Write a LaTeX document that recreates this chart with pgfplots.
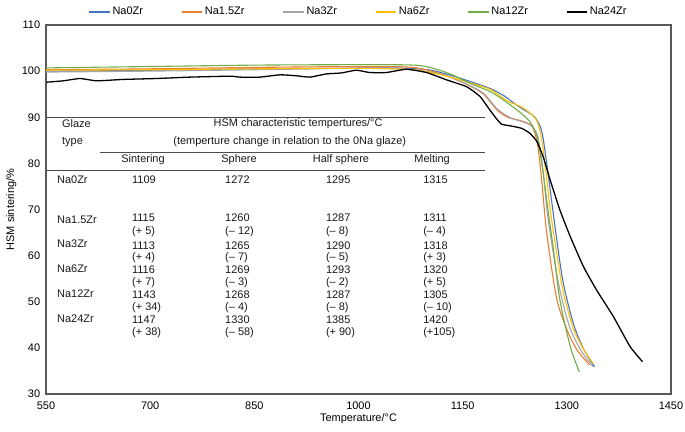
\documentclass[border=0pt]{standalone}
\usepackage{pgfplots}
\pgfplotsset{compat=1.18}
\usepackage{fontspec}
\setmainfont{Liberation Sans}
\definecolor{cBlue}{HTML}{4472C4}
\definecolor{cOrange}{HTML}{ED7D31}
\definecolor{cGray}{HTML}{A5A5A5}
\definecolor{cYellow}{HTML}{FFC000}
\definecolor{cGreen}{HTML}{70AD47}
\pgfplotsset{
  mylegimg/.style={legend image code/.code={\draw[##1, line width=1.6pt] (0cm,0cm) -- (0.72cm,0cm);}},
}
\begin{document}
\fontsize{11}{13}\selectfont
\begin{tikzpicture}
\path[use as bounding box] (-46bp,-38bp) rectangle (639bp,394bp);
\begin{axis}[
  scale only axis, width=625bp, height=369bp,
  xmin=550, xmax=1450, ymin=30, ymax=110,
  xtick={550,700,...,1450}, ytick={30,40,...,110},
  major tick length=0pt,
  axis line style={draw=black!65, line width=1.1pt},
  /pgf/number format/assume math mode=true,
  /pgf/number format/set thousands separator={},
  tick label style={font=\fontsize{11}{13}\selectfont},
  xticklabel style={yshift=-4bp},
  yticklabel style={xshift=-2bp},
  xlabel={Temperature/°C}, ylabel={HSM sintering/\%},
  label style={font=\fontsize{11}{13}\selectfont},
  xlabel style={yshift=4bp},
  ylabel style={yshift=-2bp},
  legend columns=6,
  legend style={at={(0.5,1.012)}, anchor=south, draw=none, fill=none,
    font=\fontsize{11}{13}\selectfont,
    /tikz/every even column/.append style={column sep=36bp}},
  mylegimg,
  clip=false,
]
\addplot[draw=cBlue, line width=1.1pt, smooth] coordinates {(550,100.0) (650,100.1) (750,100.3) (850,100.5) (950,100.6) (1050,100.7) (1100,100.3) (1130,99.2) (1160,97.8) (1190,96.2) (1210,94.6) (1228,92.6) (1245,91.0) (1255,89.8) (1264,86.9) (1271,80) (1278,72) (1285,64) (1295,54) (1310,45) (1325,39.5) (1340,35.9)};
\addlegendentry{Na0Zr}
\addplot[draw=cOrange, line width=1.1pt, smooth] coordinates {(550,100.3) (700,100.5) (850,100.8) (1000,101.0) (1070,100.9) (1100,100.2) (1130,98.8) (1160,96.8) (1180,95.0) (1200,91.5) (1215,90.0) (1235,89.2) (1250,88) (1258,84) (1264,76) (1271,65) (1285,51) (1300,44) (1315,39.5) (1333,36.3)};
\addlegendentry{Na1.5Zr}
\addplot[draw=cGray, line width=1.1pt, smooth] coordinates {(550,99.8) (700,100.0) (850,100.3) (1000,100.6) (1070,100.4) (1100,99.9) (1130,98.8) (1160,96.9) (1180,95.2) (1200,91.8) (1220,89.8) (1245,88.5) (1258,86) (1266,78) (1273,68) (1288,54) (1303,45) (1320,39.5) (1338,35.9)};
\addlegendentry{Na3Zr}
\addplot[draw=cYellow, line width=1.1pt, smooth] coordinates {(550,100.2) (700,100.3) (850,100.5) (1000,100.6) (1070,100.4) (1100,99.8) (1130,98.8) (1160,97.5) (1190,96.0) (1215,93.5) (1235,92.2) (1250,90.5) (1258,88.8) (1264,85) (1270,78) (1277,69) (1285,61) (1295,52) (1310,44) (1325,39.5) (1338,36.6)};
\addlegendentry{Na6Zr}
\addplot[draw=cGreen, line width=1.1pt, smooth] coordinates {(550,100.7) (700,101.0) (850,101.3) (1000,101.4) (1080,101.3) (1110,100.5) (1135,99.2) (1160,97.4) (1194,95.2) (1228,91.6) (1247,89) (1257,85.8) (1264,80) (1271,72) (1281,61) (1290,50.4) (1305,40.3) (1318,34.8)};
\addlegendentry{Na12Zr}
\addplot[draw=black, line width=1.3pt, smooth, tension=0.3] coordinates {(551,97.6) (575,97.9) (599,98.4) (623,97.9) (661,98.2) (709,98.4) (757,98.7) (815,98.9) (829,98.7) (858,98.7) (887,99.2) (910,99.0) (930,98.7) (954,99.4) (975,99.6) (997,100.2) (1016,99.7) (1040,99.7) (1069,100.4) (1098,99.7) (1127,98.1) (1156,96.6) (1175,94.5) (1189,91.6) (1198,89.8) (1206,88.5) (1220,88.1) (1235,87.6) (1247,86.5) (1257,84.7) (1266,81.4) (1276,76.4) (1290,69.9) (1305,64.1) (1324,57.6) (1343,52.5) (1367,46.8) (1391,40.3) (1409,37.0)};
\addlegendentry{Na24Zr}
% embedded table
\draw[black!70, line width=0.8pt] (axis cs:550,90) -- (axis cs:1182,90);
\draw[black!70, line width=0.8pt] (axis cs:628,82.47) -- (axis cs:1182,82.47);
\draw[black!70, line width=0.8pt] (axis cs:550,78.56) -- (axis cs:1182,78.56);
\begin{scope}[every node/.style={font=\fontsize{11}{13}\selectfont, inner sep=0pt, text=black!90}]
\node[anchor=west] at (axis cs:573,88.54) {Glaze};
\node[anchor=west] at (axis cs:573,84.63) {type};
\node at (axis cs:913,88.54) {HSM characteristic tempertures/°C};
\node at (axis cs:901,84.63) {(temperture change in relation to the 0Na glaze)};
\node at (axis cs:689.7,80.73) {Sintering};
\node at (axis cs:828,80.73) {Sphere};
\node at (axis cs:974.8,80.73) {Half sphere};
\node at (axis cs:1106,80.73) {Melting};
% row labels
\node[anchor=west] at (axis cs:565.8,76.40) {Na0Zr};
\node[anchor=west] at (axis cs:565.8,67.72) {Na1.5Zr};
\node[anchor=west] at (axis cs:565.8,62.52) {Na3Zr};
\node[anchor=west] at (axis cs:565.8,57.10) {Na6Zr};
\node[anchor=west] at (axis cs:565.8,51.68) {Na12Zr};
\node[anchor=west] at (axis cs:565.8,46.26) {Na24Zr};
% values
\node[anchor=west] at (axis cs:673.8,76.40) {1109};
\node[anchor=west] at (axis cs:807.8,76.40) {1272};
\node[anchor=west] at (axis cs:953,76.40) {1295};
\node[anchor=west] at (axis cs:1093,76.40) {1315};
\node[anchor=west] at (axis cs:673.8,68.16) {1115};
\node[anchor=west] at (axis cs:807.8,68.16) {1260};
\node[anchor=west] at (axis cs:953,68.16) {1287};
\node[anchor=west] at (axis cs:1093,68.16) {1311};
\node[anchor=west] at (axis cs:673.8,65.12) {(+ 5)};
\node[anchor=west] at (axis cs:807.8,65.12) {(– 12)};
\node[anchor=west] at (axis cs:953,65.12) {(– 8)};
\node[anchor=west] at (axis cs:1093,65.12) {(– 4)};
\node[anchor=west] at (axis cs:673.8,62.09) {1113};
\node[anchor=west] at (axis cs:807.8,62.09) {1265};
\node[anchor=west] at (axis cs:953,62.09) {1290};
\node[anchor=west] at (axis cs:1093,62.09) {1318};
\node[anchor=west] at (axis cs:673.8,59.49) {(+ 4)};
\node[anchor=west] at (axis cs:807.8,59.49) {(– 7)};
\node[anchor=west] at (axis cs:953,59.49) {(– 5)};
\node[anchor=west] at (axis cs:1093,59.49) {(+ 3)};
\node[anchor=west] at (axis cs:673.8,56.88) {1116};
\node[anchor=west] at (axis cs:807.8,56.88) {1269};
\node[anchor=west] at (axis cs:953,56.88) {1293};
\node[anchor=west] at (axis cs:1093,56.88) {1320};
\node[anchor=west] at (axis cs:673.8,54.06) {(+ 7)};
\node[anchor=west] at (axis cs:807.8,54.06) {(– 3)};
\node[anchor=west] at (axis cs:953,54.06) {(– 2)};
\node[anchor=west] at (axis cs:1093,54.06) {(+ 5)};
\node[anchor=west] at (axis cs:673.8,51.46) {1143};
\node[anchor=west] at (axis cs:807.8,51.46) {1268};
\node[anchor=west] at (axis cs:953,51.46) {1287};
\node[anchor=west] at (axis cs:1093,51.46) {1305};
\node[anchor=west] at (axis cs:673.8,48.64) {(+ 34)};
\node[anchor=west] at (axis cs:807.8,48.64) {(– 4)};
\node[anchor=west] at (axis cs:953,48.64) {(– 8)};
\node[anchor=west] at (axis cs:1093,48.64) {(– 10)};
\node[anchor=west] at (axis cs:673.8,46.04) {1147};
\node[anchor=west] at (axis cs:807.8,46.04) {1330};
\node[anchor=west] at (axis cs:953,46.04) {1385};
\node[anchor=west] at (axis cs:1093,46.04) {1420};
\node[anchor=west] at (axis cs:673.8,43.22) {(+ 38)};
\node[anchor=west] at (axis cs:807.8,43.22) {(– 58)};
\node[anchor=west] at (axis cs:953,43.22) {(+ 90)};
\node[anchor=west] at (axis cs:1093,43.22) {(+105)};
\end{scope}
\end{axis}
\end{tikzpicture}
\end{document}
